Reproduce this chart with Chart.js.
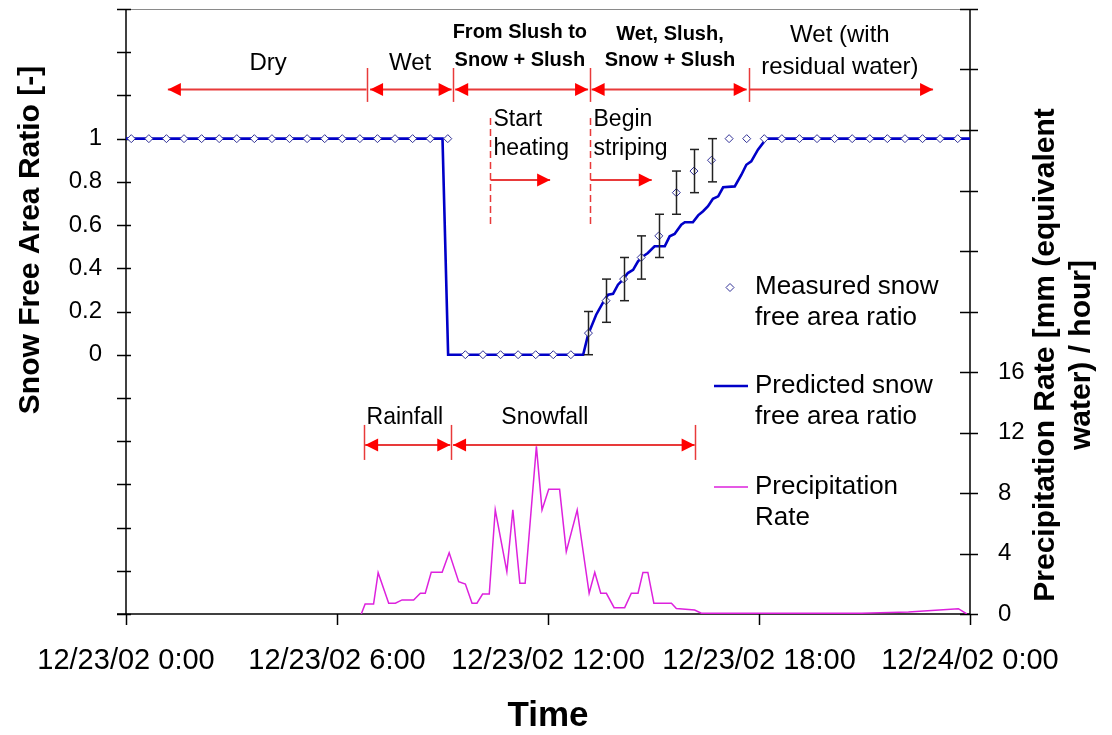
<!DOCTYPE html>
<html><head><meta charset="utf-8">
<script src="https://cdn.jsdelivr.net/npm/chart.js@4/dist/chart.umd.min.js"></script>
<style>html,body{margin:0;padding:0;background:#fff;}#wrap{width:1112px;height:735px;position:relative;}</style>
</head><body><div id="wrap"><canvas id="c" width="1112" height="735"></canvas></div>
<script>
// ---------- DATA ----------
const xTickLabels = ['12/23/02 0:00', '12/23/02 6:00', '12/23/02 12:00', '12/23/02 18:00', '12/24/02 0:00'];
// hours after 12/23/02 0:00
const measuredTime = [0.15,0.65,1.15,1.65,2.15,2.65,3.15,3.65,4.15,4.65,5.15,5.65,6.15,6.65,7.15,7.65,8.15,8.65,9.15,
  9.65,10.15,10.65,11.15,11.65,12.15,12.65,
  13.15,13.65,14.15,14.65,15.15,15.65,16.15,16.65,
  17.15,17.65,18.15,18.65,19.15,19.65,20.15,20.65,21.15,21.65,22.15,22.65,23.15,23.65];
const measuredRatio = [1,1,1,1,1,1,1,1,1,1,1,1,1,1,1,1,1,1,1,
  0,0,0,0,0,0,0,
  0.1,0.25,0.35,0.45,0.55,0.75,0.85,0.9,
  1,1,1,1,1,1,1,1,1,1,1,1,1,1];
const measuredErr = [null,null,null,null,null,null,null,null,null,null,null,null,null,null,null,null,null,null,null,
  null,null,null,null,null,null,null,
  0.1,0.1,0.1,0.1,0.1,0.1,0.1,0.1,
  null,null,null,null,null,null,null,null,null,null,null,null,null,null];
const predictedTime = [0,9.0,9.16,13.0,13.14,13.37,13.61,13.71,13.85,13.99,14.13,14.27,14.42,14.56,14.70,14.84,15.03,15.32,
  15.46,15.60,15.79,15.89,16.12,16.27,16.41,16.55,16.69,16.84,16.98,17.31,17.50,17.64,17.78,17.97,18.21,24];
const predictedRatio = [1,1,0,0,0.093,0.185,0.255,0.278,0.282,0.324,0.347,0.378,0.393,0.432,0.455,0.471,0.502,0.502,
  0.548,0.559,0.602,0.613,0.613,0.645,0.664,0.687,0.722,0.733,0.775,0.779,0.833,0.879,0.895,0.949,1,1];
const precipTime = [6.69,6.80,7.04,7.17,7.47,7.66,7.85,8.18,8.37,8.51,8.68,8.99,9.19,9.46,9.65,9.84,9.98,10.14,10.33,
  10.50,10.83,11.00,11.20,11.35,11.67,11.83,12.02,12.33,12.52,12.83,13.17,13.33,13.50,13.66,13.88,14.18,14.37,14.56,
  14.70,14.84,15.01,15.51,15.65,16.17,16.36,20.92,22.25,23.67,23.91];
const precipRate = [0,0.66,0.66,2.73,0.71,0.71,0.93,0.93,1.37,1.37,2.76,2.76,4.05,2.14,1.98,0.71,0.71,1.32,1.32,
  6.88,2.80,6.88,2.03,2.03,11.08,6.88,8.24,8.24,4.12,6.88,1.37,2.75,1.37,1.37,0.42,0.42,1.37,1.37,
  2.75,2.75,0.71,0.71,0.37,0.26,0.05,0.05,0.13,0.35,0];

// annotations (x in hours, y in left-axis units)
const phaseArrows = [[1.19,6.84,true,false],[6.94,9.26,true,true],[9.36,13.14,true,true],[13.24,17.65,true,true],[17.72,22.95,false,true]];
const phaseDividers = [6.84,9.29,13.19,17.72];
const phaseLabels = [
  {lines:['Dry'], x:4.04, y:[1.350], bold:false, size:24},
  {lines:['Wet'], x:8.08, y:[1.350], bold:false, size:24},
  {lines:['From Slush to','Snow + Slush'], x:11.2, y:[1.489,1.364], bold:true, size:20},
  {lines:['Wet, Slush,','Snow + Slush'], x:15.47, y:[1.480,1.364], bold:true, size:20},
  {lines:['Wet (with','residual water)'], x:20.3, y:[1.480,1.332], bold:false, size:24}
];
const eventMarks = [
  {x:10.35, lines:['Start','heating'], tip:12.06},
  {x:13.19, lines:['Begin','striping'], tip:14.95}
];
const precipArrows = [[6.80,9.22],[9.30,16.17]];
const precipDividers = [6.76,9.25,16.19];
const precipLabels = [{text:'Rainfall', x:7.93},{text:'Snowfall', x:11.91}];

const FONT = "'Liberation Sans', Arial, Helvetica, sans-serif";
const BLUE = '#0000c8', MAG = '#dd22dd', DIAM = '#303096', RED = '#ff0000', REDL = '#e83a3a';

function seg(ctx,x1,y1,x2,y2){ctx.beginPath();ctx.moveTo(x1,y1);ctx.lineTo(x2,y2);ctx.stroke();}
function head(ctx,tip,y,dir){ctx.beginPath();ctx.moveTo(tip,y);ctx.lineTo(tip-dir*13,y-6.5);ctx.lineTo(tip-dir*13,y+6.5);ctx.closePath();ctx.fill();}

const axesPlugin = {
  id:'axesPlugin',
  beforeDatasetsDraw(chart){
    const {ctx, chartArea:a, scales} = chart;
    ctx.save();
    ctx.strokeStyle = '#8a8a8a'; ctx.lineWidth = 1;
    seg(ctx,a.left,a.top+0.5,a.right,a.top+0.5);
    ctx.strokeStyle = '#000'; ctx.lineWidth = 1.5;
    seg(ctx,a.left,a.top,a.left,a.bottom);
    seg(ctx,a.right,a.top,a.right,a.bottom);
    seg(ctx,a.left-9,a.bottom,a.right,a.bottom);
    scales.y.ticks.forEach(t=>{const p=Math.round(scales.y.getPixelForValue(t.value))+0.5;seg(ctx,a.left-9,p,a.left+5,p);});
    scales.y2.ticks.forEach(t=>{const p=Math.round(scales.y2.getPixelForValue(t.value))+0.5;seg(ctx,a.right-10,p,a.right+8,p);});
    scales.x.ticks.forEach(t=>{const p=Math.round(scales.x.getPixelForValue(t.value))+0.5;seg(ctx,p,a.bottom,p,a.bottom+11);});
    ctx.restore();
  },
  afterDatasetsDraw(chart){
    const {ctx, chartArea:a, scales} = chart;
    const X = v=>scales.x.getPixelForValue(v), Y = v=>scales.y.getPixelForValue(v);
    ctx.save();
    // error bars
    ctx.strokeStyle = '#222'; ctx.lineWidth = 1.5;
    measuredTime.forEach((t,i)=>{
      const e = measuredErr[i]; if(e==null) return;
      const x = Math.round(X(t))+0.5, y1 = Y(measuredRatio[i]-e), y2 = Y(measuredRatio[i]+e);
      seg(ctx,x,y1,x,y2); seg(ctx,x-4.5,y1,x+4.5,y1); seg(ctx,x-4.5,y2,x+4.5,y2);
    });
    // phase arrows (top)
    const rowY = Y(1.228);
    ctx.strokeStyle = REDL; ctx.fillStyle = RED; ctx.lineWidth = 2;
    phaseArrows.forEach(([f,t,hf,ht])=>{
      seg(ctx,X(f),rowY,X(t),rowY);
      if(hf) head(ctx,X(f),rowY,-1);
      if(ht) head(ctx,X(t),rowY,1);
    });
    ctx.lineWidth = 1.5;
    phaseDividers.forEach(h=>{const x=Math.round(X(h))+0.5;seg(ctx,x,Y(1.327),x,Y(1.170));});
    ctx.fillStyle = '#000'; ctx.textAlign='center'; ctx.textBaseline='middle';
    phaseLabels.forEach(l=>{
      ctx.font = (l.bold?'bold ':'')+l.size+'px '+FONT;
      l.lines.forEach((s,k)=>ctx.fillText(s,X(l.x),Y(l.y[k])));
    });
    // event markers
    eventMarks.forEach(m=>{
      const x = Math.round(X(m.x))+0.5;
      ctx.strokeStyle = REDL; ctx.lineWidth = 1.5; ctx.setLineDash([7,4]);
      seg(ctx,x,Y(1.095),x,Y(0.594)); ctx.setLineDash([]);
      ctx.lineWidth = 2; seg(ctx,x,Y(0.809),X(m.tip),Y(0.809));
      ctx.fillStyle = RED; head(ctx,X(m.tip),Y(0.809),1);
      ctx.fillStyle = '#000'; ctx.textAlign='left'; ctx.font = '23px '+FONT;
      ctx.fillText(m.lines[0],x+3,Y(1.09)); ctx.fillText(m.lines[1],x+3,Y(0.952));
    });
    // precipitation phases
    const pY = Y(-0.418);
    ctx.strokeStyle = REDL; ctx.fillStyle = RED; ctx.lineWidth = 2;
    precipArrows.forEach(([f,t])=>{seg(ctx,X(f),pY,X(t),pY);head(ctx,X(f),pY,-1);head(ctx,X(t),pY,1);});
    ctx.lineWidth = 1.5;
    precipDividers.forEach(h=>{const x=Math.round(X(h))+0.5;seg(ctx,x,Y(-0.325),x,Y(-0.487));});
    ctx.fillStyle = '#000'; ctx.textAlign='center'; ctx.font='23px '+FONT;
    precipLabels.forEach(l=>ctx.fillText(l.text,X(l.x),Y(-0.293)));
    ctx.restore();
  },
  afterDraw(chart){
    const {ctx} = chart;
    ctx.save();
    ctx.fillStyle = '#000';
    // axis titles
    ctx.font = 'bold 30px '+FONT; ctx.textAlign='center'; ctx.textBaseline='middle';
    ctx.save(); ctx.translate(31,240); ctx.rotate(-Math.PI/2); ctx.fillText('Snow Free Area Ratio [-]',0,0); ctx.restore();
    ctx.save(); ctx.translate(1046,355); ctx.rotate(-Math.PI/2); ctx.fillText('Precipitation Rate [mm (equivalent',0,0); ctx.restore();
    ctx.save(); ctx.translate(1082,355); ctx.rotate(-Math.PI/2); ctx.fillText('water) / hour]',0,0); ctx.restore();
    ctx.font = 'bold 35px '+FONT; ctx.fillText('Time',548,716);
    // legend
    const ds = chart.data.datasets;
    ctx.font = '26px '+FONT; ctx.textAlign='left';
    ctx.beginPath(); ctx.moveTo(730,283.5); ctx.lineTo(734,287.5); ctx.lineTo(730,291.5); ctx.lineTo(726,287.5); ctx.closePath();
    ctx.fillStyle='#fff'; ctx.fill(); ctx.strokeStyle = ds[0].borderColor; ctx.lineWidth=1; ctx.stroke();
    ctx.strokeStyle = ds[1].borderColor; ctx.lineWidth = ds[1].borderWidth; seg(ctx,714,386,748,386);
    ctx.strokeStyle = ds[2].borderColor; ctx.lineWidth = ds[2].borderWidth; seg(ctx,714,487,748,487);
    ctx.fillStyle='#000';
    [['Measured snow','free area ratio',287],['Predicted snow','free area ratio',386],['Precipitation','Rate',487]].forEach(([a,b,y])=>{
      ctx.fillText(a,755,y); ctx.fillText(b,755,y+31);
    });
    ctx.restore();
  }
};

const fixSize = (w,h)=>scale=>{ if(w!=null) scale.width=w; if(h!=null) scale.height=h; scale.paddingTop=0; scale.paddingBottom=0; scale.paddingLeft=0; scale.paddingRight=0; };

new Chart(document.getElementById('c'), {
  type:'scatter',
  data:{datasets:[
    {label:'Measured snow free area ratio', data:measuredTime.map((t,i)=>({x:t,y:measuredRatio[i]})), yAxisID:'y',
     showLine:false, pointStyle:'rectRot', pointRadius:4, pointBorderWidth:1, borderColor:DIAM, backgroundColor:'#fff', pointBackgroundColor:'#fff'},
    {label:'Predicted snow free area ratio', data:predictedTime.map((t,i)=>({x:t,y:predictedRatio[i]})), yAxisID:'y',
     showLine:true, pointRadius:0, borderColor:BLUE, borderWidth:2.6, tension:0},
    {label:'Precipitation Rate', data:precipTime.map((t,i)=>({x:t,y:precipRate[i]})), yAxisID:'y2',
     showLine:true, pointRadius:0, borderColor:MAG, borderWidth:1.5, tension:0}
  ]},
  options:{
    responsive:false, animation:false, devicePixelRatio:1,
    layout:{padding:{top:9,left:0,right:0,bottom:0}},
    plugins:{legend:{display:false}, tooltip:{enabled:false}},
    scales:{
      x:{type:'linear', position:'bottom', min:0, max:24,
         afterFit:fixSize(null,121),
         grid:{display:false, drawTicks:false}, border:{display:false},
         ticks:{stepSize:6, autoSkip:false, maxRotation:0, padding:30, color:'#000', font:{family:FONT,size:29},
                callback:v=>xTickLabels[Math.round(v/6)]}},
      y:{type:'linear', position:'left', min:-1.2, max:1.6,
         afterFit:fixSize(126,null),
         grid:{display:false, drawTicks:false}, border:{display:false},
         ticks:{stepSize:0.2, autoSkip:false, padding:24, color:'#000', font:{family:FONT,size:24},
                callback:v=>{const r=Math.round(v*10)/10; return (r>=0&&r<=1)?(r===0?'0':r===1?'1':r.toFixed(1)):'';}}},
      y2:{type:'linear', position:'right', min:0, max:40,
         afterFit:fixSize(142,null),
         grid:{display:false, drawTicks:false}, border:{display:false},
         ticks:{stepSize:4, autoSkip:false, padding:28, color:'#000', font:{family:FONT,size:24},
                callback:v=>(v<=16?String(v):'')}}
    }
  },
  plugins:[axesPlugin]
});
</script></body></html>
